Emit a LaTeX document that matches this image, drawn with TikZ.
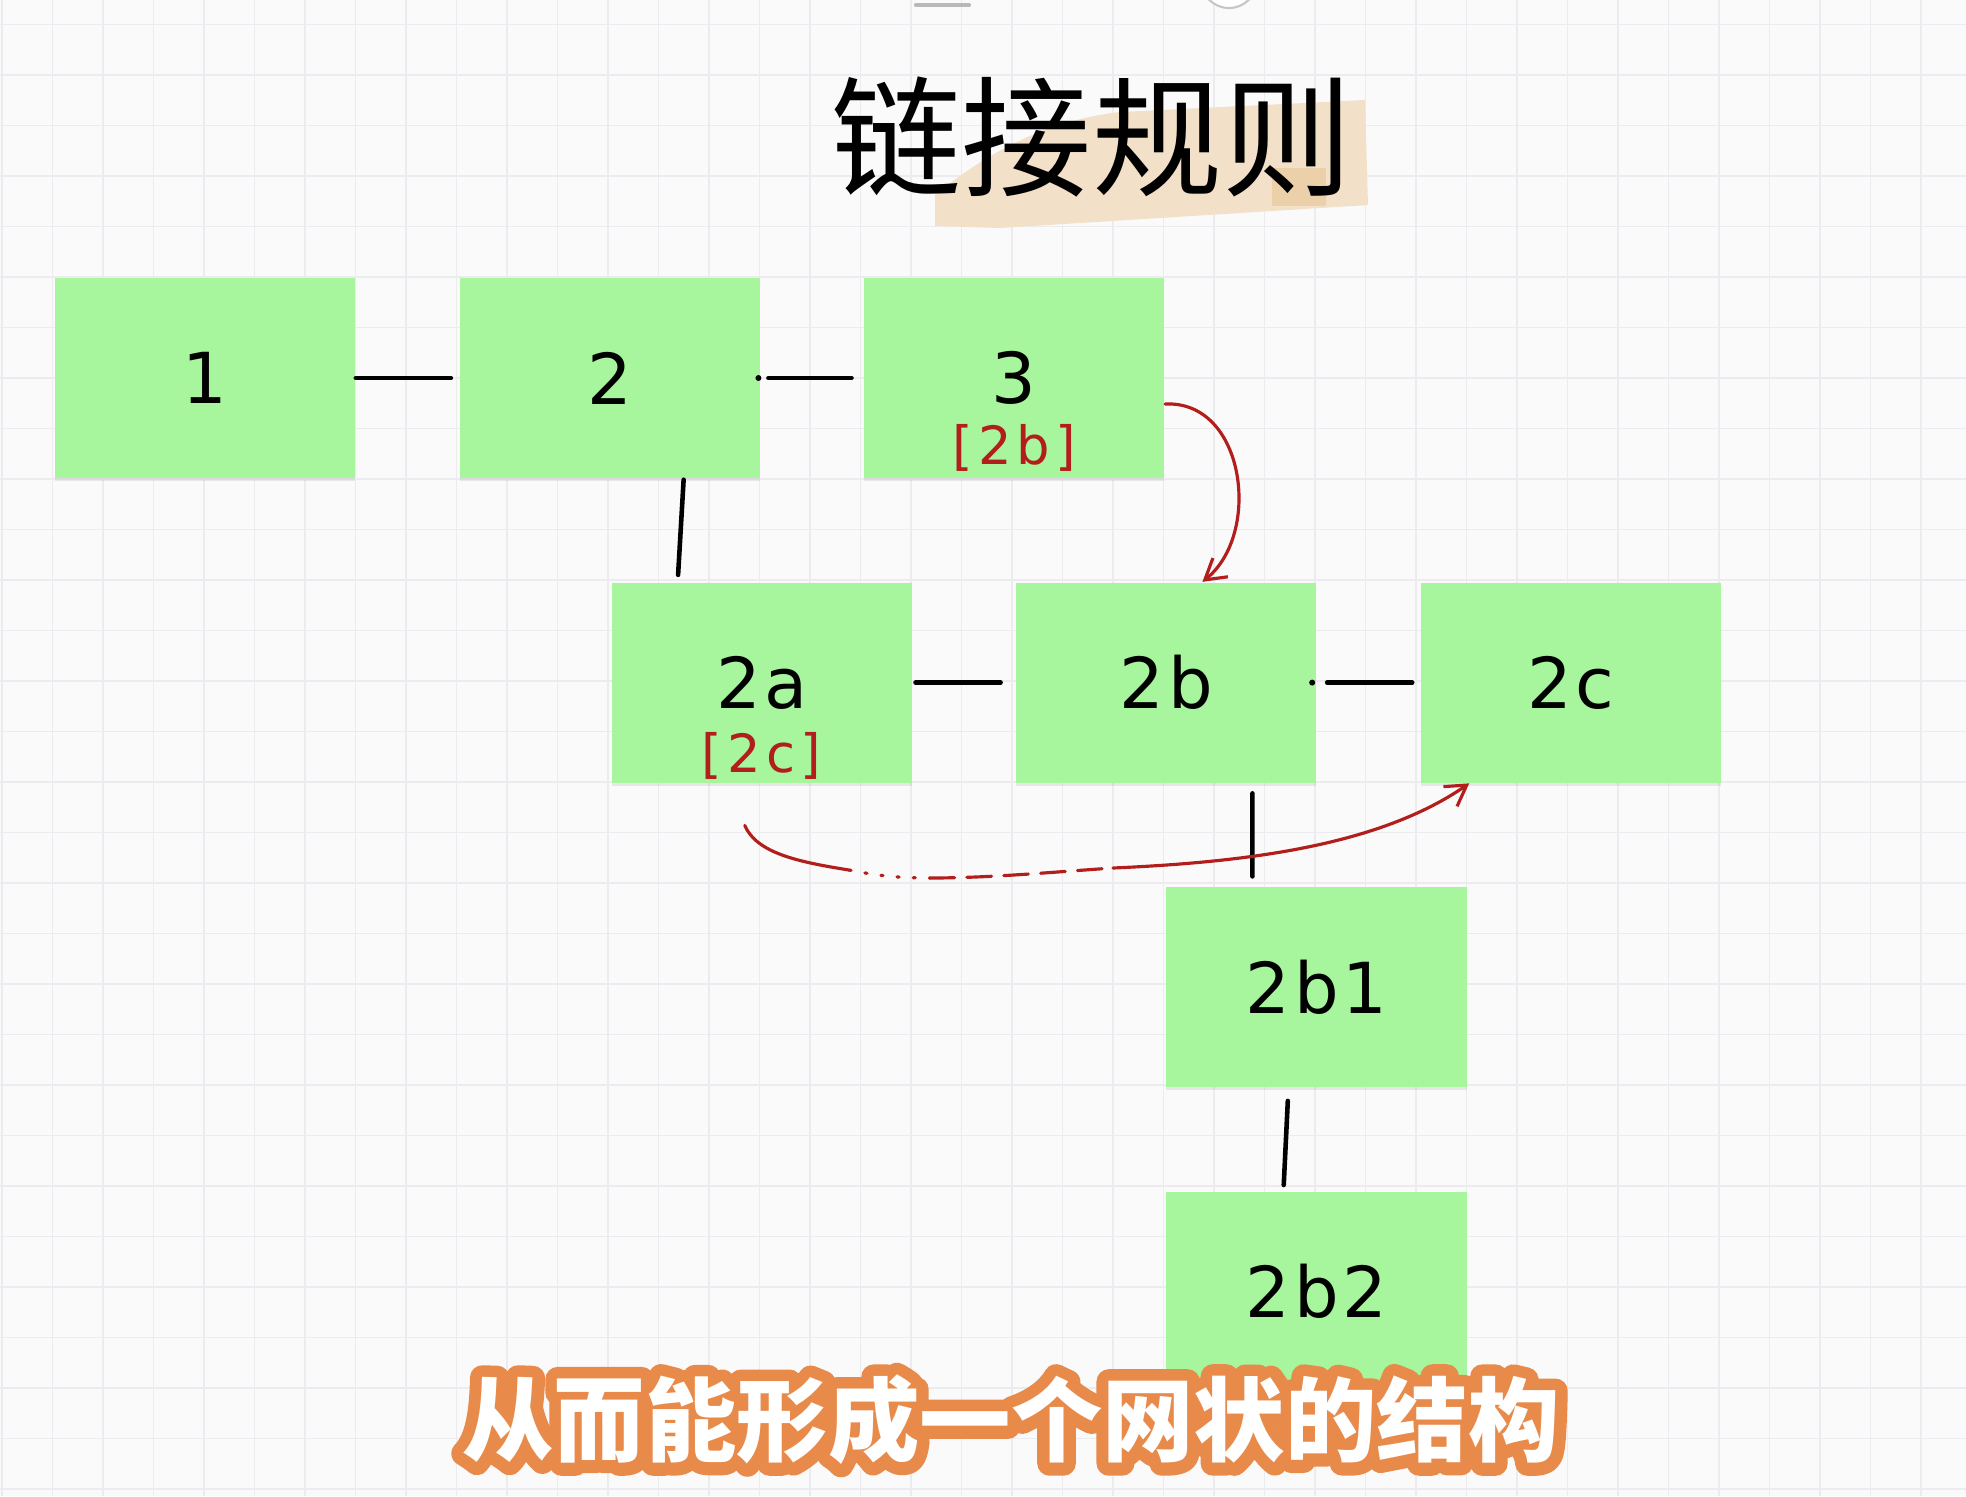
\documentclass[tikz,border=0pt]{standalone}
\usepackage{fontspec}
\setmainfont{DejaVu Sans}
\newfontfamily\cjk{Noto Sans CJK SC}
\usetikzlibrary{positioning, arrows.meta, shadows}

\definecolor{paper}{RGB}{250,250,251}
\definecolor{gridgray}{RGB}{236,236,240}
\definecolor{boxgreen}{RGB}{167,245,156}
\definecolor{inkred}{RGB}{178,30,28}
\definecolor{marker}{RGB}{243,224,200}
\definecolor{markerdark}{RGB}{236,208,170}
\definecolor{suborange}{RGB}{232,137,74}

\begin{document}
\begin{tikzpicture}[
    x=0.01cm, y=-0.01cm,
    node distance=1.03cm,
    box/.style={rectangle, fill=boxgreen, minimum width=3cm, minimum height=2cm, inner sep=0pt,
        font=\fontsize{20}{24}\selectfont\addfontfeature{LetterSpace=5},
        drop shadow={shadow xshift=0cm, shadow yshift=-0.03cm, opacity=0.15}},
    tag/.style={text=inkred, inner sep=0pt, font=\fontsize{15}{18}\selectfont\addfontfeature{LetterSpace=10}},
    link/.style={line width=1.3pt, line cap=round},
    redline/.style={inkred, line width=0.9pt, line cap=round},
    redarrow/.style={redline, -{Straight Barb[length=0.2cm, width=0.24cm]}},
    gridline/.style={gridgray, line width=0.55pt},
    subline/.style={font=\cjk\bfseries\fontsize{26}{30}\selectfont, inner sep=0pt}
]

% paper and grid
\fill[paper] (0,0) rectangle (1966,1496);
\useasboundingbox (0,0) rectangle (1966,1496);
\begin{scope}
\clip (0,0) rectangle (1966,1496);
\foreach \i in {0,...,38} \draw[gridline] ({2+50.5*\i},0) -- ({2+50.5*\i},1496);
\foreach \j in {0,...,29} \draw[gridline] (0,{24.5+50.5*\j}) -- (1966,{24.5+50.5*\j});
\draw[gray!55, line width=1.2pt, line cap=round] (916,5) -- (969,5);
\draw[gray!45, line width=0.6pt, fill=white] (1229,-20) circle[radius=0.28cm];
\end{scope}

% title with marker
\fill[marker] (935,195) .. controls (990,150) and (1050,120) .. (1120,112) -- (1365,100) -- (1368,205) -- (1000,228) -- (935,226) -- cycle;
\fill[markerdark] (1272,168) rectangle (1326,206);
\node (title) at (1092,137) {\cjk\fontsize{37}{40}\selectfont 链接规则};

% boxes
\node (n1) [box] at (205,378) {1};
\node (n2) [box, right=of n1] {2};
\node (n3) [box, right=of n2] {3};
\node (n2a) [box, below=of n2, xshift=1.52cm] {2a};
\node (n2b) [box, right=of n2a] {2b};
\node (n2c) [box, right=of n2b] {2c};
\node (n2b1) [box, below=of n2b, xshift=1.5cm] {2b1};
\node (n2b2) [box, below=of n2b1] {2b2};

\node (tag3) [tag] at ([yshift=-0.7cm]n3.center) {[2b]};
\node (tag2a) [tag] at ([yshift=-0.73cm]n2a.center) {[2c]};

% links
\draw[link] (n1.east) -- ([xshift=-0.08cm]n2.west);
\fill ([xshift=-0.02cm]n2.east) circle[radius=0.03cm];
\draw[link] ([xshift=0.08cm]n2.east) -- ([xshift=-0.12cm]n3.west);
\draw[link, shorten <=0.01cm, shorten >=0.07cm] ([xshift=0.74cm]n2.south) -- ([xshift=-0.84cm]n2a.north);
\draw[link] ([xshift=0.03cm]n2a.east) -- ([xshift=-0.15cm]n2b.west);
\fill ([xshift=-0.05cm]n2b.east) circle[radius=0.03cm];
\draw[link] ([xshift=0.1cm]n2b.east) -- ([xshift=-0.08cm]n2c.west);
\draw[link, shorten <=0.1cm, shorten >=0.1cm] ([xshift=0.86cm]n2b.south) -- ([xshift=-0.64cm]n2b1.north);
\draw[link, shorten <=0.13cm, shorten >=0.06cm] ([xshift=-0.28cm]n2b1.south) -- ([xshift=-0.33cm]n2b2.north);

% red references
\draw[redarrow] ([yshift=-0.26cm]n3.east) .. controls +(80,-4) and +(60,-48) .. ([xshift=0.36cm]n2b.north);

\coordinate (tail) at ([xshift=-0.17cm, yshift=-0.42cm]n2a.south);
\coordinate (dotA) at (849,870);
\coordinate (dashA) at (930,878);
\coordinate (dashB) at (1113,868);
\draw[redline] (tail) .. controls +(12,28) and +(-50,-8) .. (dotA);
\draw[redline, dash pattern=on 0.6pt off 4pt] (dotA) .. controls +(30,6) and +(-30,0) .. (dashA);
\draw[redline, dash pattern=on 7pt off 3.5pt] (dashA) .. controls +(60,0) and +(-60,4) .. (dashB);
\draw[redarrow] (dashB) .. controls (1250,862) and (1380,845) .. ([xshift=0.49cm]n2c.south west);

% subtitle: orange rim (stroked text) under white text
\begin{scope}
\node[subline, text=suborange] (subrim) at (1011,1420) {\special{pdf:literal direct 1 j 1 J 0.91 0.54 0.29 RG 7 w 2 Tr}从而能形成一个网状的结构};
\end{scope}
\node[subline, text=white] (subtitle) at (1011,1420) {从而能形成一个网状的结构};

\end{tikzpicture}
\end{document}
